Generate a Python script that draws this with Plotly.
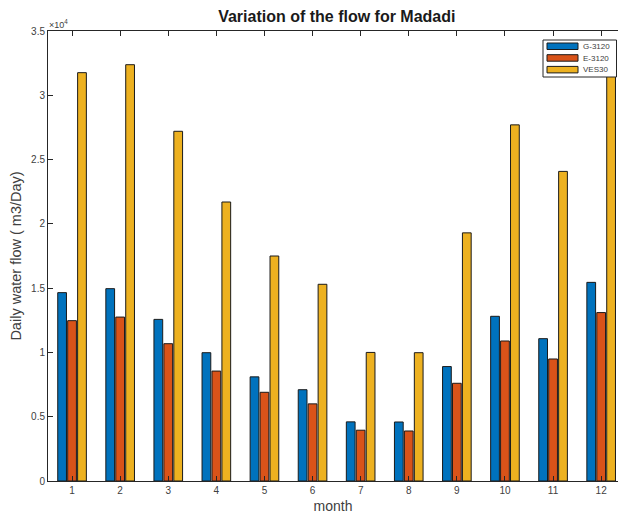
import plotly.graph_objects as go

months = [1, 2, 3, 4, 5, 6, 7, 8, 9, 10, 11, 12]
g3120 = [14650, 14960, 12570, 9980, 8100, 7100, 4600, 4590, 8900, 12810, 11070, 15450]
e3120 = [12470, 12750, 10680, 8550, 6900, 6000, 3950, 3890, 7600, 10890, 9490, 13100]
ves30 = [31760, 32380, 27200, 21700, 17500, 15300, 10000, 9980, 19300, 27700, 24080, 33000]
series_names = ["G-3120", "E-3120", "VES30"]
series_colors = ["#0072BD", "#D95319", "#EDB120"]
ytick_vals = [0, 5000, 10000, 15000, 20000, 25000, 30000, 35000]
ytick_text = ["0", "0.5", "1", "1.5", "2", "2.5", "3", "3.5"]

W, H = 618, 518
ML, MR, MT, MB = 48, 0, 31, 37
PW, PH = W - ML - MR, H - MT - MB


def px_x(px):
    return (px - ML) / PW


def px_y(py):
    return (H - MB - py) / PH


fig = go.Figure()
for name, vals, col in zip(series_names, [g3120, e3120, ves30], series_colors):
    fig.add_trace(go.Bar(
        x=months, y=vals, name=name, showlegend=False,
        marker=dict(color=col, line=dict(color="#1a1a1a", width=1)),
    ))

# manual MATLAB-style legend
shapes = [dict(type="rect", xref="paper", yref="paper",
               x0=px_x(543), x1=px_x(616.5), y0=px_y(77), y1=px_y(40),
               fillcolor="white", line=dict(color="#262626", width=1), layer="above")]
annotations = []
for i, (name, col) in enumerate(zip(series_names, series_colors)):
    top = 43 + i * 11.7
    shapes.append(dict(type="rect", xref="paper", yref="paper",
                       x0=px_x(547), x1=px_x(578), y0=px_y(top + 6.5), y1=px_y(top),
                       fillcolor=col, line=dict(color="#1a1a1a", width=1), layer="above"))
    annotations.append(dict(text=name, xref="paper", yref="paper",
                            x=px_x(581), y=px_y(top + 3.3), xanchor="left", yanchor="middle",
                            showarrow=False, font=dict(size=8, color="#404040")))

annotations.append(dict(text="×10<sup>4</sup>", xref="paper", yref="paper", x=0, y=1,
                        xanchor="left", yanchor="bottom", showarrow=False,
                        font=dict(size=9, color="#404040"), yshift=-1, xshift=-1))

axis_col = "#262626"
fig.update_layout(
    width=W, height=H,
    margin=dict(l=ML, r=MR, t=MT, b=MB),
    paper_bgcolor="white", plot_bgcolor="white",
    barmode="group", bargap=0.38, bargroupgap=0.12,
    font=dict(family="Liberation Sans, Arial, sans-serif", color="#404040"),
    title=dict(text="<b>Variation of the flow for Madadi</b>", x=0.545, xref="container",
               y=1 - 16 / H, yref="container", yanchor="middle",
               font=dict(size=16, color="#1a1a1a")),
    xaxis=dict(range=[0.5, 12.35], tickvals=months, ticks="inside", ticklen=5,
               tickcolor=axis_col, showline=True, linecolor=axis_col, linewidth=1,
               mirror="ticks", showgrid=False, zeroline=False,
               tickfont=dict(size=10, color="#404040"),
               title=dict(text="month", font=dict(size=14, color="#404040"), standoff=6)),
    yaxis=dict(range=[0, 35000], tickvals=ytick_vals, ticktext=ytick_text,
               ticks="inside", ticklen=5, tickcolor=axis_col, showline=True,
               linecolor=axis_col, linewidth=1, showgrid=False, zeroline=False,
               tickfont=dict(size=10, color="#404040"),
               title=dict(text="Daily water flow ( m3/Day)", font=dict(size=14.5, color="#404040"),
                          standoff=6)),
    shapes=shapes,
    annotations=annotations,
)

fig.write_html("out.html")
